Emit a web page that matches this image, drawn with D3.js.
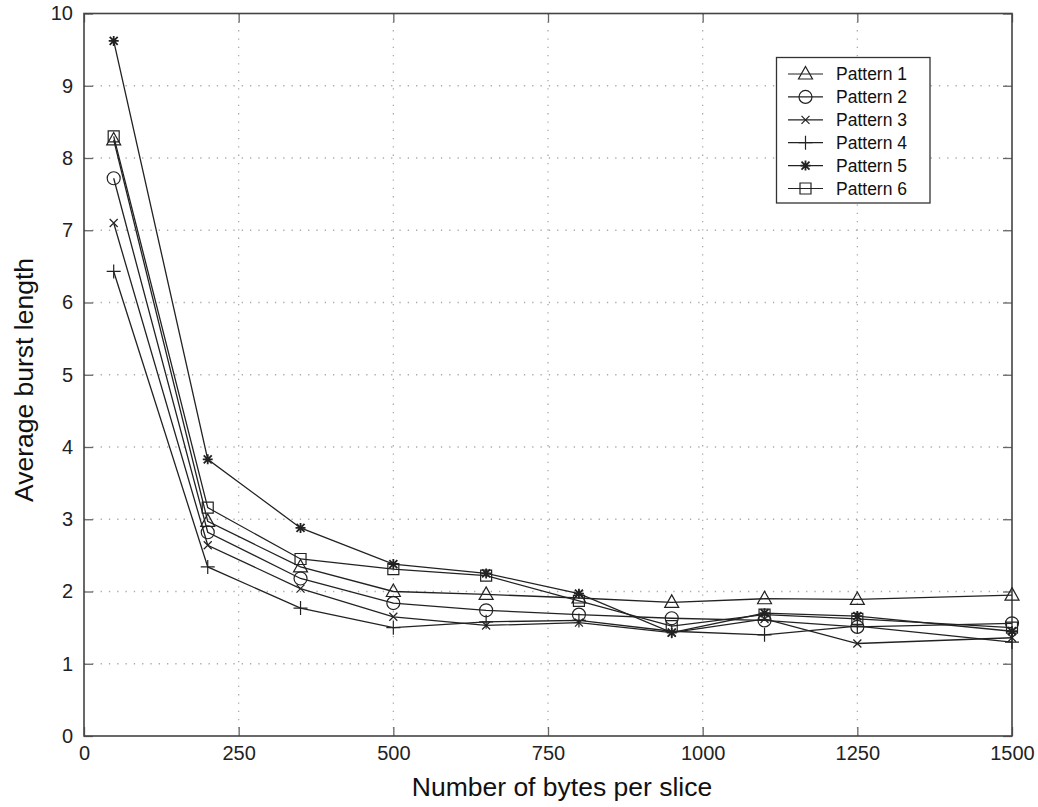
<!DOCTYPE html>
<html>
<head>
<meta charset="utf-8">
<script src="https://cdn.jsdelivr.net/npm/d3@7"></script>
<style>
    body { margin: 0; background: #fff; }
    svg { font-family: "Liberation Sans", Arial, sans-serif; }
</style>
</head>
<body>
<div id="chart"></div>
<script>
// bytes per slice
var xValues = [48, 200, 350, 500, 650, 800, 950, 1100, 1250, 1500];

var pattern1 = [8.25, 2.97, 2.34, 2.00, 1.96, 1.91, 1.85, 1.90, 1.89, 1.95];
var pattern2 = [7.72, 2.82, 2.18, 1.84, 1.74, 1.68, 1.63, 1.60, 1.51, 1.56];
var pattern3 = [7.10, 2.64, 2.04, 1.65, 1.53, 1.57, 1.43, 1.62, 1.28, 1.36];
var pattern4 = [6.43, 2.34, 1.77, 1.50, 1.58, 1.60, 1.45, 1.40, 1.52, 1.30];
var pattern5 = [9.62, 3.83, 2.88, 2.38, 2.25, 1.97, 1.43, 1.70, 1.66, 1.45];
var pattern6 = [8.30, 3.16, 2.45, 2.31, 2.22, 1.87, 1.52, 1.68, 1.62, 1.50];

var seriesNames = ["Pattern 1", "Pattern 2", "Pattern 3", "Pattern 4", "Pattern 5", "Pattern 6"];
var markers = ["triangle", "circle", "x", "plus", "star", "square"];

var xTicks = [0, 250, 500, 750, 1000, 1250, 1500];
var yTicks = [0, 1, 2, 3, 4, 5, 6, 7, 8, 9, 10];

window.onload = init;

function init() {
    var w = 1038;
    var h = 807;
    var left = 84, right = 1012, top = 13.5, bottom = 736;

    var series = [pattern1, pattern2, pattern3, pattern4, pattern5, pattern6];

    var svg = d3.select("#chart")
                .append("svg")
                .attr("width", w)
                .attr("height", h);

    var x = d3.scaleLinear().domain([0, 1500]).range([left, right]);
    var y = d3.scaleLinear().domain([0, 10]).range([bottom, top]);

    // grid
    svg.selectAll("line.gx")
        .data(xTicks.slice(1, -1))
        .enter()
        .append("line")
        .attr("x1", function(d) { return x(d); })
        .attr("x2", function(d) { return x(d); })
        .attr("y1", top)
        .attr("y2", bottom)
        .attr("stroke", "#aaa")
        .attr("stroke-width", 1.3)
        .attr("stroke-dasharray", "1.3,7");

    svg.selectAll("line.gy")
        .data(yTicks.slice(1, -1))
        .enter()
        .append("line")
        .attr("x1", left)
        .attr("x2", right)
        .attr("y1", function(d) { return y(d); })
        .attr("y2", function(d) { return y(d); })
        .attr("stroke", "#aaa")
        .attr("stroke-width", 1.3)
        .attr("stroke-dasharray", "1.3,7");

    // axes, ticks pointing inward (matlab style)
    var tickLen = 9;
    var fmt = d3.format("d");
    var xAxis = d3.axisBottom(x).tickValues(xTicks).tickFormat(fmt).tickSizeInner(-tickLen).tickSizeOuter(0).tickPadding(14);
    var yAxis = d3.axisLeft(y).tickValues(yTicks).tickFormat(fmt).tickSizeInner(-tickLen).tickSizeOuter(0).tickPadding(11);
    var xAxisTop = d3.axisTop(x).tickValues(xTicks).tickSizeInner(-tickLen).tickSizeOuter(0).tickFormat("");
    var yAxisRight = d3.axisRight(y).tickValues(yTicks).tickSizeInner(-tickLen).tickSizeOuter(0).tickFormat("");

    var gx = svg.append("g").attr("transform", "translate(0," + bottom + ")").call(xAxis);
    var gy = svg.append("g").attr("transform", "translate(" + left + ",0)").call(yAxis);
    svg.append("g").attr("transform", "translate(0," + top + ")").call(xAxisTop);
    svg.append("g").attr("transform", "translate(" + right + ",0)").call(yAxisRight);

    svg.selectAll(".domain").remove();
    svg.selectAll(".tick line").attr("stroke", "#666").attr("stroke-width", 1.3);
    gx.selectAll("text").attr("font-size", 20).attr("fill", "#222").attr("dy", "0.5em");
    gy.selectAll("text").attr("font-size", 20).attr("fill", "#222");

    // box
    svg.append("rect")
        .attr("x", left)
        .attr("y", top)
        .attr("width", right - left)
        .attr("height", bottom - top)
        .attr("fill", "none")
        .attr("stroke", "#444")
        .attr("stroke-width", 1.6);

    // axis titles
    svg.append("text")
        .text("Number of bytes per slice")
        .attr("x", 562)
        .attr("y", 796)
        .attr("text-anchor", "middle")
        .attr("font-size", 26.5)
        .attr("fill", "#111");

    svg.append("text")
        .text("Average burst length")
        .attr("transform", "translate(33,380) rotate(-90)")
        .attr("text-anchor", "middle")
        .attr("font-size", 26.5)
        .attr("fill", "#111");

    // lines
    var line = d3.line()
        .x(function(d, i) { return x(xValues[i]); })
        .y(function(d) { return y(d); });

    svg.selectAll("path.series")
        .data(series)
        .enter()
        .append("path")
        .attr("class", "series")
        .attr("d", line)
        .attr("fill", "none")
        .attr("stroke", "#222")
        .attr("stroke-width", 1.3);

    function drawMarker(g, type, cx, cy) {
        var m = g.append("path")
            .attr("fill", "none")
            .attr("stroke", "#222")
            .attr("stroke-width", 1.2);
        var p;
        if (type == "triangle") {
            p = "M" + cx + "," + (cy - 7.5) + "L" + (cx + 7) + "," + (cy + 5) + "L" + (cx - 7) + "," + (cy + 5) + "Z";
        } else if (type == "circle") {
            p = "M" + (cx + 6.5) + "," + cy + "A6.5,6.5 0 1,1 " + (cx - 6.5) + "," + cy + "A6.5,6.5 0 1,1 " + (cx + 6.5) + "," + cy;
        } else if (type == "square") {
            p = "M" + (cx - 5.5) + "," + (cy - 5.5) + "h11v11h-11Z";
        } else if (type == "x") {
            p = "M" + (cx - 4) + "," + (cy - 4) + "l8,8M" + (cx + 4) + "," + (cy - 4) + "l-8,8";
        } else if (type == "plus") {
            p = "M" + (cx - 7) + "," + cy + "h14M" + cx + "," + (cy - 7) + "v14";
        } else {
            p = "M" + (cx - 4) + "," + (cy - 4) + "l8,8M" + (cx + 4) + "," + (cy - 4) + "l-8,8" +
                "M" + (cx - 5) + "," + cy + "h10M" + cx + "," + (cy - 5) + "v10";
            m.attr("stroke-width", 1.8);
        }
        m.attr("d", p);
    }

    // markers
    var gm = svg.append("g");
    series.forEach(function(s, k) {
        s.forEach(function(v, i) {
            drawMarker(gm, markers[k], x(xValues[i]), y(v));
        });
    });

    // legend
    var lg = svg.append("g");
    lg.append("rect")
        .attr("x", 776.5)
        .attr("y", 57.5)
        .attr("width", 153.5)
        .attr("height", 145.5)
        .attr("fill", "#fff")
        .attr("stroke", "#333")
        .attr("stroke-width", 1.3);

    seriesNames.forEach(function(name, k) {
        var ly = 74 + k * 22.9;
        lg.append("line")
            .attr("x1", 788)
            .attr("x2", 823)
            .attr("y1", ly)
            .attr("y2", ly)
            .attr("stroke", "#222")
            .attr("stroke-width", 1.2);
        drawMarker(lg, markers[k], 805.5, ly);
        lg.append("text")
            .text(name)
            .attr("x", 836)
            .attr("y", ly + 6)
            .attr("font-size", 17.5)
            .attr("fill", "#111");
    });
}
</script>
</body>
</html>
